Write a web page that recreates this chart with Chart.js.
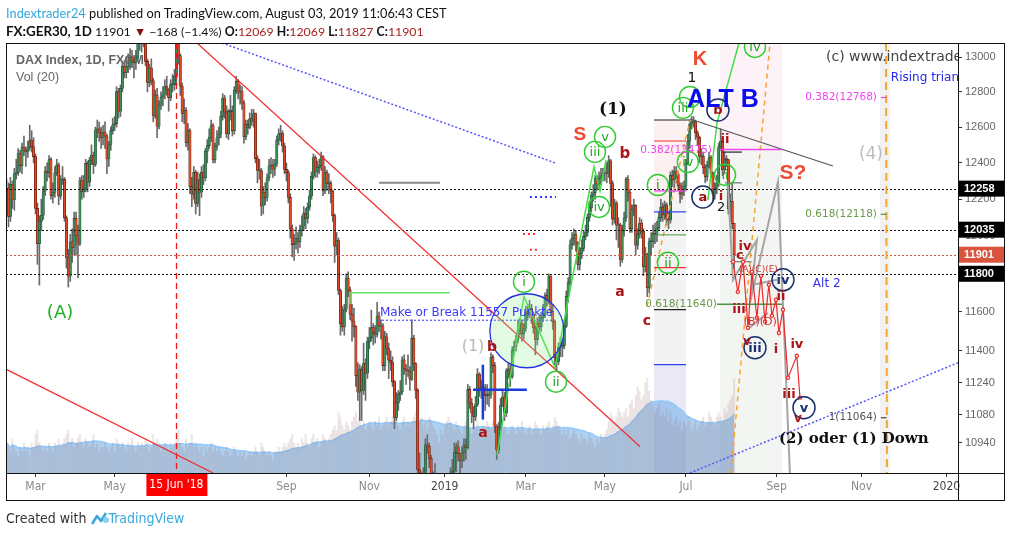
<!DOCTYPE html>
<html>
<head>
<meta charset="utf-8">
<script src="https://cdn.jsdelivr.net/npm/chart.js@4.4.1/dist/chart.umd.min.js"></script>
<style>
html, body { margin: 0; padding: 0; background: #fff; width: 1011px; height: 537px; overflow: hidden; }
#chart { position: absolute; left: 0; top: 0; }
.txt { position: absolute; left: 6px; white-space: nowrap; z-index: 2; font-family: Lato, "Liberation Sans", sans-serif; color: #111; }
.red { color: #a8231f; }
.foot { top: 510px; font-family: "Liberation Sans Narrow", "DejaVu Sans Condensed", sans-serif; font-size: 14px; color: #333; }
.foot svg { vertical-align: -3px; }
</style>
</head>
<body>
<canvas id="chart" width="1011" height="537"></canvas>
<div class="txt" style="top:5px;font-size:12.8px"><span style="color:#35a7dc">Indextrader24</span> published on TradingView.com, August 03, 2019 11:06:43 CEST</div>
<div class="txt" style="top:23px;font-size:12.3px"><b style="font-size:13.4px">FX:GER30, 1D</b> 11901 <span style="color:#8b0a0a">&#9660;</span> &minus;168 (&minus;1.4%) <b>O:</b><span class="red">12069</span> <b>H:</b><span class="red">12069</span> <b>L:</b><span class="red">11827</span> <b>C:</b><span class="red">11901</span></div>
<div class="txt foot">Created with <svg width="18" height="15" viewBox="0 0 18 15"><path d="M1 13 L6 5 L10 10 L15 2" fill="none" stroke="#3aa8de" stroke-width="2.6" stroke-linejoin="round"/><circle cx="15" cy="9" r="3" fill="#8fd0ef"/></svg><span style="color:#3aa8de">TradingView</span></div>

<script>
// x axis: bar index (trading days from 8 Feb 2018)
const tickIdx    = [15, 56, 145, 188, 227, 269, 310, 352, 399, 443, 487];
const tickLabels = ["Mar", "May", "Sep", "Nov", "2019", "Mar", "May", "Jul", "Sep", "Nov", "2020"];
const priceTicks = [10940, 11080, 11240, 11400, 11600, 11800, 12000, 12200, 12400, 12600, 12800, 13000];
const levels = [12258, 12035, 11800];
const lastClose = 11901;
const markIdx = 88;               // 15 Jun 2018
const markLabel = "15 Jun '18";

// daily candles Feb 2018 - Aug 2019
const opens = [
  12170,12260,12107,12282,12196,12339,12346,12452,12385,12488,12470,12461,12483,12527,12490,
  12435,12150,11960,12080,12113,12245,12355,12346,12418,12221,12237,12345,12389,12217,12307,12309,12100,11886,11787,11970,11940,
  12096,12002,11957,12305,12241,12261,12397,12293,12415,12442,12391,12585,12590,12567,12540,12572,12550,12422,12500,12580,
  12612,12620,12802,12690,12820,12948,12912,12943,12945,13001,12978,12970,12996,13114,13078,13077,13169,12976,12855,12938,12863,12666,12783,
  12605,12724,12770,12788,12830,12811,12767,12842,12842,12890,13107,13010,12834,12677,12695,12512,12580,12270,12228,12348,12177,
  12306,12238,12349,12318,12465,12496,12543,12609,12417,12492,12540,12561,12661,12765,12686,12561,12689,12689,12579,12809,12860,12798,
  12805,12737,12546,12615,12598,12648,12633,12676,12424,12358,12358,12163,12237,12210,12318,12384,12385,12365,12394,12527,12561,12563,12494,
  12364,12346,12210,12040,11955,11960,11987,11970,12032,12055,12124,12096,12157,12219,12326,12430,12350,12374,12385,12435,
  12246,12346,12287,12287,12244,12111,11947,11977,11712,11539,11523,11614,11777,11715,11589,11553,11524,11274,11191,11307,11200,11335,11287,
  11447,11468,11519,11495,11484,11579,11527,11529,11325,11472,11412,11353,11341,11244,11066,11138,11180,11192,11354,11309,11299,11298,
  11257,11465,11335,11200,10811,10788,10622,10780,10931,10924,10865,10772,10740,10766,10611,10634,10382,
  10559,10580,10416,10767,10747,10804,10893,10921,10887,10855,10891,10931,10918,11205,11136,11090,11071,11130,11281,11210,11218,11181,
  11173,11180,11176,11368,11325,11022,10906,11014,11126,11167,11089,11299,11309,11269,11401,11423,11458,11505,11540,11487,
  11516,11601,11592,11620,11588,11517,11457,11543,11524,11572,11587,11685,11657,11788,11603,11550,11364,11346,11419,11419,11428,
  11526,11681,11754,11954,11988,12009,11963,11850,11905,11935,11999,12020,12101,12153,12222,12235,12313,12283,12315,12328,
  12344,12340,12345,12412,12286,12092,12179,12059,12060,11876,12029,12099,12310,12238,12041,12143,12168,11952,12011,12071,12027,11837,11902,
  11726,11971,11971,12015,12009,12045,12100,12157,12115,12169,12096,12086,12332,12309,12355,12340,12274,12228,12246,12271,
  12399,12521,12616,12629,12629,12568,12543,12436,12437,12373,12323,12387,12430,12341,12227,12260,12290,12490,12522,12362,12419,12418,12147,
  12189,12069
];
const highs = [
  12310,12290,12320,12300,12370,12420,12480,12470,12510,12550,12490,12520,12610,12580,12540,
  12450,12180,12110,12200,12270,12380,12400,12440,12430,12290,12380,12420,12400,12330,12380,12320,12110,11930,12010,12040,12130,
  12130,12060,12320,12330,12330,12420,12410,12430,12500,12460,12600,12640,12630,12600,12610,12630,12560,12520,12600,12650,
  12660,12830,12820,12840,12970,12980,12990,13020,13050,13040,13010,13040,13140,13130,13130,13200,13180,12990,12960,12990,12880,12810,12820,
  12750,12800,12830,12870,12890,12820,12870,12900,12930,13170,13120,13020,12850,12760,12710,12620,12590,12320,12380,12360,12350,
  12340,12380,12390,12480,12530,12590,12640,12620,12510,12580,12600,12690,12790,12780,12720,12700,12780,12720,12830,12890,12870,12840,
  12830,12750,12640,12640,12680,12700,12700,12680,12440,12420,12370,12270,12290,12340,12420,12430,12420,12420,12550,12590,12610,12580,12510,
  12400,12360,12230,12060,12010,12050,12020,12060,12110,12160,12150,12180,12250,12350,12450,12440,12410,12420,12460,12440,
  12380,12360,12340,12300,12250,12120,12020,11990,11720,11630,11640,11800,11810,11730,11640,11620,11530,11340,11330,11320,11440,11360,11470,
  11520,11610,11540,11530,11650,11600,11560,11540,11500,11490,11440,11400,11370,11250,11190,11200,11250,11370,11380,11330,11380,11320,
  11560,11480,11340,11210,10890,10800,10820,10960,10980,10940,10880,10800,10840,10780,10700,10640,10600,
  10620,10600,10790,10820,10860,10940,10940,10950,10890,10920,10960,10960,11230,11220,11160,11120,11170,11310,11290,11250,11240,11230,
  11230,11200,11390,11380,11340,11030,11040,11160,11200,11190,11310,11340,11330,11420,11450,11480,11560,11570,11560,11540,
  11630,11640,11660,11640,11600,11530,11570,11580,11600,11640,11700,11720,11800,11790,11640,11560,11380,11440,11470,11460,11560,
  11710,11780,11980,12020,12040,12030,11970,11940,11980,12030,12060,12120,12190,12240,12280,12330,12330,12350,12370,12370,
  12380,12400,12440,12420,12300,12200,12190,12100,12070,12060,12130,12320,12330,12250,12170,12200,12170,12040,12100,12090,12040,11940,11910,
  11990,12020,12060,12070,12080,12130,12200,12180,12190,12180,12130,12350,12360,12380,12380,12350,12290,12290,12300,12420,
  12560,12640,12660,12660,12640,12580,12550,12480,12460,12390,12410,12460,12440,12350,12290,12330,12510,12590,12540,12460,12440,12420,12230,
  12290,12069
];
const lows = [
  12120,12050,12080,12150,12140,12310,12330,12350,12340,12440,12380,12430,12470,12460,12400,
  12120,11850,11740,12030,12090,12220,12300,12320,12200,12180,12210,12330,12170,12200,12280,12080,11830,11730,11760,11860,11900,
  11900,11780,11950,12200,12210,12240,12240,12270,12390,12340,12380,12540,12520,12480,12500,12480,12340,12380,12470,12560,
  12580,12600,12650,12660,12800,12880,12880,12910,12930,12940,12880,12930,12980,13040,13030,13060,12950,12800,12830,12840,12630,12650,12540,
  12590,12700,12720,12760,12780,12690,12750,12800,12810,12840,12960,12780,12630,12620,12490,12470,12230,12160,12200,12120,12160,
  12110,12210,12280,12300,12400,12480,12520,12400,12400,12470,12500,12540,12640,12650,12540,12530,12640,12550,12560,12790,12760,12730,
  12700,12510,12530,12560,12590,12610,12600,12400,12290,12310,12110,12120,12170,12190,12300,12340,12320,12330,12380,12500,12520,12460,12340,
  12300,12180,11990,11890,11870,11930,11910,11940,12000,12030,12040,12070,12140,12200,12310,12320,12320,12340,12360,12220,
  12230,12250,12230,12180,12080,11860,11900,11690,11480,11500,11480,11600,11680,11560,11450,11470,11220,11150,11050,11050,11180,11150,11260,
  11410,11450,11430,11440,11470,11500,11460,11300,11300,11380,11260,11300,11220,11010,11050,11100,11150,11180,11280,11230,11270,11200,
  11250,11300,11160,10780,10740,10580,10600,10760,10890,10820,10740,10680,10700,10560,10580,10280,10360,
  10380,10380,10400,10710,10720,10780,10800,10850,10780,10820,10850,10860,10910,11110,11040,11010,11050,11120,11170,11160,11130,11100,
  11130,11120,11160,11290,10990,10860,10890,11000,11120,11050,11070,11260,11220,11260,11380,11400,11440,11480,11450,11460,
  11500,11560,11570,11540,11490,11380,11430,11490,11500,11550,11570,11630,11640,11580,11510,11330,11300,11330,11370,11370,11410,
  11520,11650,11740,11930,11950,11920,11820,11820,11880,11920,11980,12000,12080,12130,12190,12200,12250,12260,12280,12300,
  12300,12290,12320,12160,12060,12070,11980,11940,11840,11860,12000,12080,12190,12020,12020,12110,11900,11930,11990,11990,11790,11810,11680,
  11700,11900,11940,11960,11970,12030,12080,12080,12090,12060,12040,12070,12270,12240,12290,12250,12180,12200,12220,12250,
  12390,12480,12590,12600,12530,12500,12400,12390,12340,12290,12300,12370,12320,12190,12200,12230,12270,12470,12330,12340,12380,12120,12080,
  12040,11827
];
const closes = [
  12260,12107,12282,12196,12339,12346,12452,12385,12488,12470,12461,12483,12527,12490,12435,
  12150,11960,12080,12113,12245,12355,12346,12418,12221,12237,12345,12389,12217,12307,12309,12100,11886,11787,11970,11940,12096,
  12002,11957,12305,12241,12261,12397,12293,12415,12442,12391,12585,12590,12567,12540,12572,12550,12422,12500,12580,12612,
  12620,12802,12690,12820,12948,12912,12943,12945,13001,12978,12970,12996,13114,13078,13077,13169,12976,12855,12938,12863,12666,12783,12605,
  12724,12770,12788,12830,12811,12767,12842,12842,12890,13107,13010,12834,12677,12695,12512,12580,12270,12228,12348,12177,12306,
  12238,12349,12318,12465,12496,12543,12609,12417,12492,12540,12561,12661,12765,12686,12561,12689,12689,12579,12809,12860,12798,12805,
  12737,12546,12615,12598,12648,12633,12676,12424,12358,12358,12163,12237,12210,12318,12384,12385,12365,12394,12527,12561,12563,12494,12364,
  12346,12210,12040,11955,11960,11987,11970,12032,12055,12124,12096,12157,12219,12326,12430,12350,12374,12385,12435,12246,
  12346,12287,12287,12244,12111,11947,11977,11712,11539,11523,11614,11777,11715,11589,11553,11524,11274,11191,11307,11200,11335,11287,11447,
  11468,11519,11495,11484,11579,11527,11529,11325,11472,11412,11353,11341,11244,11066,11138,11180,11192,11354,11309,11299,11298,11257,
  11465,11335,11200,10811,10788,10622,10780,10931,10924,10865,10772,10740,10766,10611,10634,10382,10559,
  10580,10416,10767,10747,10804,10893,10921,10887,10855,10891,10931,10918,11205,11136,11090,11071,11130,11281,11210,11218,11181,11173,
  11180,11176,11368,11325,11022,10906,11014,11126,11167,11089,11299,11309,11269,11401,11423,11458,11505,11540,11487,11516,
  11601,11592,11620,11588,11517,11457,11543,11524,11572,11587,11685,11657,11788,11603,11550,11364,11346,11419,11419,11428,11526,
  11681,11754,11954,11988,12009,11963,11850,11905,11935,11999,12020,12101,12153,12222,12235,12313,12283,12315,12328,12344,
  12340,12345,12412,12286,12092,12179,12059,12060,11876,12029,12099,12310,12238,12041,12143,12168,11952,12011,12071,12027,11837,11902,11726,
  11971,11971,12015,12009,12045,12100,12157,12115,12169,12096,12086,12332,12309,12355,12340,12274,12228,12246,12271,12399,
  12521,12616,12629,12629,12568,12543,12436,12437,12373,12323,12387,12430,12341,12227,12260,12290,12490,12522,12362,12419,12418,12147,12189,
  12069,11901
];
const volumes = [
  7,6,5,8,6,5,4,6,5,7, 5,6,4,7,6,9,10,7,6,5, 6,5,7,6,5,7,6,8,6,7, 8,9,10,7,8,6,7,8,9,7,
  6,8,7,6,7,9,6,7,5,6, 6,7,6,5,6,7,5,8,7,6, 7,6,5,7,6,8,6,5,7,6, 7,6,8,7,5,6,9,7,8,6,
  5,6,7,6,5,7,6,7,8,10, 7,6,5,8,6,7,9,6,7,6, 5,6,4,6,5,6,7,5,6,5, 6,5,4,5,6,5,4,5,6,5,
  4,5,4,5,3,4,5,4,5,6, 5,4,7,6,5,4,5,4,3,5, 5,6,5,6,7,6,7,8,9,7, 6,7,6,8,7,9,7,6,8,9,
  7,8,6,7,9,8,7,8,9,10, 11,10,14,13,11,10,12,11,10,12, 13,14,12,13,11,12,10,11,12,11, 10,12,11,13,10,11,12,13,11,12,
  13,14,12,11,10,12,13,11,12,11, 12,13,14,15,12,13,11,12,10,13, 12,11,10,9,7,10,9,11,12,13, 12,11,10,12,11,10,9,11,12,10,
  10,9,11,10,12,9,10,11,10,12, 11,10,12,11,10,12,9,10,11,10, 9,10,11,10,9,11,10,12,10,9, 10,11,9,10,12,11,10,9,11,10,
  11,12,10,11,13,12,11,10,9,10, 9,10,8,9,10,9,8,7,9,8, 8,7,9,8,7,6,8,7,9,8, 9,10,12,14,13,12,13,15,14,13,
  14,15,13,16,17,15,18,20,19,17, 18,21,22,19,17,16,14,15,16,13, 14,13,15,12,14,11,12,13,11,12, 10,12,11,13,12,10,11,12,10,11,
  12,13,11,12,14,13,12,11,13,14, 13,12,15,14,16,17,18,22
];

// ---------- drawings on the chart (bar index, price) ----------
const bands = [
  { from: 335.5, to: 352.1, top: 12640, bottom: 12196, color: "#fcf0f0" },
  { from: 335.5, to: 352.1, top: 12196, bottom: 11330, color: "#f3f3f3" },
  { from: 335.5, to: 352.1, top: 11330, bottom: 10000, color: "#ebe8f6" },
  { from: 369.7, to: 401.8, top: 14000, bottom: 12472, color: "#fdf2f8" },
  { from: 369.7, to: 401.8, top: 12472, bottom: 10000, color: "#f3f5f3" },
  { from: 452.6, to: 457.8, top: 14000, bottom: 10000, color: "#f2f2f2" }
];

const drawLines = [
  { pts: [[98.7, 13083], [328.2, 10923]], color: "#f22a2a", w: 1.2 },
  { pts: [[-1, 11310], [107, 10794]], color: "#f22a2a", w: 1.2 },
  { pts: [[111.6, 13083], [284.2, 12400]], color: "#5555ff", w: 1.5, dash: [2, 2] },
  { pts: [[354.1, 10794], [493, 11340]], color: "#5555ff", w: 1.5, dash: [2, 2] },
  { pts: [[193, 12290], [224.6, 12290]], color: "#8a8a8a", w: 2 },
  { pts: [[177.9, 11640], [177.9, 11700], [229.7, 11700]], color: "#66e066", w: 1.5 },
  { pts: [[192.4, 11557], [283.1, 11557]], color: "#5555ff", w: 1.3, dash: [2, 2] },
  { pts: [[254.1, 10879], [268.1, 11680], [284.2, 11315], [304.4, 12378], [307.5, 12245], [310.6, 12416]], color: "#44dd44", w: 1.5 },
  { pts: [[363.4, 12196], [368.1, 12623], [379.5, 13083]], color: "#44dd44", w: 1.5 },
  { pts: [[246.8, 11330], [246.8, 11055]], color: "#1a3be0", w: 2.5 },
  { pts: [[241.7, 11204], [269.6, 11204]], color: "#1a3be0", w: 2.5 },
  { pts: [[271.2, 12212], [284.7, 12212]], color: "#3333ff", w: 2, dash: [2, 3] },
  { pts: [[267.6, 12012], [275.3, 12012]], color: "#ff3333", w: 2, dash: [2, 3] },
  { pts: [[271.2, 11927], [275.3, 11927]], color: "#ff3333", w: 2, dash: [2, 3] },
  { pts: [[331.8, 11628], [354.1, 12640]], color: "#f7a531", w: 1.5, dash: [5, 4] },
  { pts: [[375.3, 10794], [395.6, 13083]], color: "#f7a531", w: 1.5, dash: [5, 4] },
  { pts: [[455.7, 13083], [456.2, 10794]], color: "#f7a531", w: 2, dash: [8, 5] },
  { pts: [[354.1, 12646], [428.2, 12383]], color: "#555555", w: 1.2 },
  { pts: [[373.8, 12278], [376.4, 11768], [388.8, 11980], [385.2, 11648], [399.7, 12295], [405.9, 10790]], color: "#a5a5a5", w: 2 },
  { pts: [[383.6, 11508], [394.5, 11596]], color: "#a5a5a5", w: 2 },
  { pts: [[386.7, 11742], [399.2, 11768]], color: "#a5a5a5", w: 2 },
  { pts: [[372.3, 12290], [381, 12290]], color: "#888888", w: 1.5 },
  { pts: [[375, 11864], [386, 11864]], color: "#777777", w: 1.2 },
  { pts: [[335.5, 12640], [354, 12640]], color: "#222222", w: 1.2 },
  { pts: [[335.5, 12522], [352.1, 12522]], color: "#ee3333", w: 1.2 },
  { pts: [[335.5, 12246], [352.1, 12246]], color: "#ee44ee", w: 1.2 },
  { pts: [[335.5, 12131], [352.1, 12131]], color: "#3344ee", w: 1.2 },
  { pts: [[335.5, 12007], [352.1, 12007]], color: "#449944", w: 1 },
  { pts: [[335.5, 11832], [352.1, 11832]], color: "#ee3333", w: 1.2 },
  { pts: [[335.5, 11612], [352.1, 11612]], color: "#222222", w: 1.2 },
  { pts: [[335.5, 11330], [352.1, 11330]], color: "#3344ee", w: 1.2 },
  { pts: [[369.7, 12475], [401.8, 12475]], color: "#ee44ee", w: 1.5 },
  { pts: [[368.1, 11640], [401.8, 11640]], color: "#449944", w: 1.5 },
  { pts: [[371, 12460], [381, 12460]], color: "#222222", w: 1.2 },
  { pts: [[453, 12768], [456, 12768]], color: "#ee44ee", w: 1.2 },
  { pts: [[453, 12118], [456, 12118]], color: "#449944", w: 1.2 },
  { pts: [[453, 11064], [456, 11064]], color: "#444444", w: 1.2 }
];

const zigzag = [[376.4, 11864], [378.9, 11706], [381.6, 11864], [384.2, 11518], [386.2, 11810], [388.8, 11570],
  [390.9, 11789], [393.0, 11550], [395.0, 11742], [396.6, 11581], [398.7, 11664], [400.2, 11493],
  [402.3, 11612], [404.9, 11264], [409.5, 11375], [411.1, 11164]];

const greenCircles = [["i", 268.1, 11758], ["ii", 284.7, 11244], ["iii", 304.9, 12461], ["v", 310.1, 12545], ["iv", 307, 12158],
  ["i", 337.5, 12278], ["ii", 342.7, 11858], ["iii", 350.5, 12709], ["", 354.1, 12771], ["iv", 353, 12405],
  ["ii", 372.3, 12334], ["iv", 387.8, 13060]];
const navyCircles = [["a", 360.8, 12212, "#a01010"], ["b", 368.6, 12697, "#a01010"], ["iv", 402.3, 11768, "#1a2f6e"],
  ["iii", 387.8, 11416, "#1a2f6e"], ["v", 413.2, 11114, "#1a2f6e"]];

const F = "'DejaVu Sans', sans-serif";
const L = "'Liberation Sans', Arial, sans-serif";
const waveRed = "#ab1414";
const texts = [
  ["(A)", 27.7, 11591, "#22b022", "18px " + F, "center"],
  ["(1)", 241.7, 11421, "#b8b8b8", "16px " + F, "center"],
  ["b", 251.5, 11416, waveRed, "bold 14px " + F, "center"],
  ["a", 246.8, 10986, waveRed, "bold 14px " + F, "center"],
  ["c", 253.6, 10772, waveRed, "bold 14px " + F, "center"],
  ["S", 297.1, 12556, "#f04a32", "bold 19px " + L, "center"],
  ["(1)", 314.2, 12697, "#111111", "bold 17px 'DejaVu Serif', serif", "center"],
  ["b", 320.4, 12450, waveRed, "bold 15px " + F, "center"],
  ["a", 317.8, 11700, waveRed, "bold 14px " + F, "center"],
  ["c", 331.8, 11550, waveRed, "bold 14px " + F, "center"],
  ["K", 359.3, 12984, "#f04a32", "bold 20px " + L, "center"],
  ["1", 355.1, 12880, "#111111", "14px " + F, "center"],
  ["2", 370.2, 12153, "#111111", "13px " + F, "center"],
  ["ALT B", 371.2, 12754, "#0b0bf0", "bold 25px " + L, "center"],
  ["S?", 407.5, 12344, "#f04a32", "bold 21px " + L, "center"],
  ["(4)", 447.9, 12444, "#bdbdbd", "17px " + F, "center"],
  ["ii", 372.3, 12528, waveRed, "bold 13px " + F, "center"],
  ["i", 370.2, 12212, waveRed, "bold 13px " + F, "center"],
  ["iv", 382.6, 11943, waveRed, "bold 13px " + F, "center"],
  ["c", 380, 11895, waveRed, "bold 13px " + F, "center"],
  ["iii", 379.5, 11612, waveRed, "bold 13px " + F, "center"],
  ["v", 383.6, 11446, waveRed, "bold 12px " + F, "center"],
  ["ii", 401.3, 11680, waveRed, "bold 13px " + F, "center"],
  ["i", 398.7, 11406, waveRed, "bold 13px " + F, "center"],
  ["iv", 409.5, 11431, waveRed, "bold 13px " + F, "center"],
  ["iii", 405.4, 11179, waveRed, "bold 13px " + F, "center"],
  ["v", 410, 11060, waveRed, "bold 12px " + F, "center"],
  ["(A)(C)(E)", 389.5, 11821, "#cc3333", "9px " + F, "center"],
  ["(B)(D)", 390.5, 11545, "#cc3333", "11px " + F, "center"],
  ["0.382(12475)", 365.5, 12472, "#ee44ee", "10.5px " + F, "right"],
  ["0.618(11640)", 368.1, 11640, "#6a9a4a", "10.5px " + F, "right"],
  ["0.382(12768)", 451, 12768, "#ee44ee", "10.5px " + F, "right"],
  ["0.618(12118)", 451, 12118, "#6a9a4a", "10.5px " + F, "right"],
  ["1(11064)", 451, 11064, "#555555", "10.5px " + F, "right"],
  ["Alt 2", 417.8, 11747, "#3333ee", "12px " + F, "left"],
  ["(2) oder (1) Down", 400.2, 10957, "#111111", "bold 15px 'DejaVu Serif', serif", "left"],
  ["Make or Break 11557 Punkte", 193.5, 11597, "#3a3aff", "12px " + F, "left"],
  ["(c) www.indextrader24.com", 424.6, 13000, "#444444", "14px " + F, "left"],
  ["Rising triangle", 458.2, 12880, "#2525ee", "12px " + F, "left"]
];

// ---------- datasets ----------
const wickData = [], bodyData = [], volData = [], maData = [];
for (let i = 0; i < closes.length; i++) {
  const lo = Math.min(lows[i], opens[i], closes[i]);
  const hi = Math.max(highs[i], opens[i], closes[i]);
  wickData.push({ x: i, y: [lo, hi] });
  bodyData.push({ x: i, y: [opens[i], closes[i]] });
  volData.push({ x: i, y: volumes[i] });
  // Vol (20): 20-day average of volume
  let s = 0, k = 0;
  for (let j = Math.max(0, i - 19); j <= i; j++) { s += volumes[j]; k++; }
  maData.push({ x: i, y: s / k });
}

const X = (c, v) => c.scales.x.getPixelForValue(v);
const Y = (c, v) => c.scales.y.getPixelForValue(v);

function clipArea(ctx, a) {
  ctx.beginPath();
  ctx.rect(a.left, a.top, a.right - a.left, a.bottom - a.top);
  ctx.clip();
}

const drawings = {
  id: "drawings",
  beforeDatasetsDraw(chart) {
    const { ctx, chartArea: a } = chart;
    ctx.save();
    clipArea(ctx, a);
    bands.forEach(b => {
      const x1 = X(chart, b.from), x2 = X(chart, b.to);
      const y1 = Y(chart, b.top), y2 = Y(chart, b.bottom);
      ctx.fillStyle = b.color;
      ctx.fillRect(x1, y1, x2 - x1, y2 - y1);
    });
    ctx.fillStyle = "#666";
    ctx.textBaseline = "middle";
    ctx.font = "bold 12.5px " + L;
    ctx.fillText("DAX Index, 1D, FXCM", 16, 61);
    ctx.font = "12.5px " + L;
    ctx.fillText("Vol (20)", 16, 78);
    ctx.restore();
  },
  afterDatasetsDraw(chart) {
    const { ctx, chartArea: a } = chart;
    ctx.save();
    clipArea(ctx, a);

    // horizontal levels
    ctx.lineWidth = 1;
    ctx.setLineDash([2, 2]);
    levels.forEach(p => {
      const y = Math.round(Y(chart, p)) + 0.5;
      ctx.strokeStyle = "#111";
      ctx.beginPath(); ctx.moveTo(a.left, y); ctx.lineTo(a.right, y); ctx.stroke();
    });
    const yl = Math.round(Y(chart, lastClose)) + 0.5;
    ctx.strokeStyle = "#d0584a";
    ctx.beginPath(); ctx.moveTo(a.left, yl); ctx.lineTo(a.right, yl); ctx.stroke();

    // 15 Jun marker
    const xm = Math.round(X(chart, markIdx)) + 0.5;
    ctx.setLineDash([6, 4]);
    ctx.strokeStyle = "#f01818";
    ctx.lineWidth = 1.3;
    ctx.beginPath(); ctx.moveTo(xm, a.top); ctx.lineTo(xm, a.bottom); ctx.stroke();

    // line drawings
    drawLines.forEach(l => {
      ctx.setLineDash(l.dash || []);
      ctx.strokeStyle = l.color;
      ctx.lineWidth = l.w;
      ctx.beginPath();
      l.pts.forEach((p, k) => {
        const x = X(chart, p[0]), y = Y(chart, p[1]);
        if (k === 0) ctx.moveTo(x, y); else ctx.lineTo(x, y);
      });
      ctx.stroke();
    });
    ctx.setLineDash([]);

    // big circle "Make or Break"
    ctx.beginPath();
    ctx.arc(X(chart, 269.6), Y(chart, 11503), 37, 0, Math.PI * 2);
    ctx.fillStyle = "rgba(140, 240, 140, 0.25)";
    ctx.fill();
    ctx.strokeStyle = "#2233dd";
    ctx.lineWidth = 1.3;
    ctx.stroke();

    // red projection
    ctx.strokeStyle = "#f02a2a";
    ctx.lineWidth = 1.2;
    ctx.beginPath();
    zigzag.forEach((p, k) => {
      const x = X(chart, p[0]), y = Y(chart, p[1]);
      if (k === 0) ctx.moveTo(x, y); else ctx.lineTo(x, y);
    });
    ctx.stroke();
    zigzag.forEach(p => {
      ctx.beginPath();
      ctx.arc(X(chart, p[0]), Y(chart, p[1]), 1.6, 0, Math.PI * 2);
      ctx.fillStyle = "#fff"; ctx.fill(); ctx.stroke();
    });

    // wave circles
    ctx.textAlign = "center";
    ctx.textBaseline = "middle";
    greenCircles.forEach(c => {
      const x = X(chart, c[1]), y = Y(chart, c[2]);
      ctx.beginPath(); ctx.arc(x, y, 10.5, 0, Math.PI * 2);
      ctx.strokeStyle = "#2fcc2f"; ctx.lineWidth = 1.4; ctx.stroke();
      ctx.fillStyle = "#1ea51e"; ctx.font = "13px " + F;
      ctx.fillText(c[0], x, y + 1);
    });
    navyCircles.forEach(c => {
      const x = X(chart, c[1]), y = Y(chart, c[2]);
      ctx.beginPath(); ctx.arc(x, y, 11, 0, Math.PI * 2);
      ctx.strokeStyle = "#1a2f6e"; ctx.lineWidth = 1.5; ctx.stroke();
      ctx.fillStyle = c[3]; ctx.font = "bold 13px " + F;
      ctx.fillText(c[0], x, y + 1);
    });

    // text labels
    texts.forEach(t => {
      ctx.fillStyle = t[3];
      ctx.font = t[4];
      ctx.textAlign = t[5];
      ctx.fillText(t[0], X(chart, t[1]), Y(chart, t[2]));
    });
    ctx.restore();
  },
  afterDraw(chart) {
    const { ctx, chartArea: a } = chart;
    ctx.save();
    // price boxes on the right axis
    ctx.font = "bold 11px " + L;
    ctx.textBaseline = "middle";
    ctx.textAlign = "left";
    const boxes = levels.map(p => [p, "#000"]).concat([[lastClose, "#d9533f"]]);
    boxes.forEach(b => {
      const y = Y(chart, b[0]);
      ctx.fillStyle = b[1];
      ctx.fillRect(a.right + 1, y - 8, 45, 16);
      ctx.fillStyle = "#fff";
      ctx.fillText(String(b[0]), a.right + 6, y + 0.5);
    });
    // date marker box
    const xm = X(chart, markIdx);
    ctx.fillStyle = "#ff0000";
    ctx.fillRect(xm - 30, a.bottom + 1, 61, 22);
    ctx.fillStyle = "#fff";
    ctx.font = "12px 'Liberation Sans Narrow', 'DejaVu Sans Condensed', sans-serif";
    ctx.textAlign = "center";
    ctx.fillText(markLabel, xm, a.bottom + 12);
    // frame
    ctx.strokeStyle = "#111";
    ctx.lineWidth = 1;
    ctx.strokeRect(a.left + 0.5, a.top + 0.5, 1004 - a.left, 500 - a.top);
    ctx.beginPath();
    ctx.moveTo(a.right + 0.5, a.top); ctx.lineTo(a.right + 0.5, 500.5);
    ctx.moveTo(a.left, a.bottom + 0.5); ctx.lineTo(1004.5, a.bottom + 0.5);
    ctx.stroke();
    ctx.restore();
  }
};

Chart.defaults.font.family = L;

new Chart(document.getElementById("chart"), {
  type: "bar",
  data: {
    datasets: [
      {
        label: "body", data: bodyData, yAxisID: "y", grouped: false, order: 0,
        barThickness: 2.4, minBarLength: 1, borderWidth: 0.6, borderSkipped: false,
        backgroundColor: c => closes[c.dataIndex] >= opens[c.dataIndex] ? "#3e8e5e" : "#e24a2a",
        borderColor: c => closes[c.dataIndex] >= opens[c.dataIndex] ? "#1d4a31" : "#5a180b"
      },
      {
        label: "wick", data: wickData, yAxisID: "y", grouped: false, order: 1,
        barThickness: 1, backgroundColor: "#6a6a6a"
      },
      {
        label: "volume", data: volData, yAxisID: "yv", grouped: false, order: 2,
        barThickness: 1.4, backgroundColor: "rgba(150, 100, 100, 0.17)"
      },
      {
        type: "line", label: "Vol (20)", data: maData, yAxisID: "yv", order: 3,
        fill: "origin", backgroundColor: "rgba(110, 172, 230, 0.55)",
        borderColor: "rgba(140, 200, 255, 0.95)", borderWidth: 1.5, pointRadius: 0, tension: 0.2
      }
    ]
  },
  options: {
    responsive: false,
    animation: false,
    layout: { padding: { left: 6, top: 43, right: 7, bottom: 37 } },
    plugins: { legend: { display: false }, tooltip: { enabled: false } },
    scales: {
      x: {
        type: "linear", min: -0.3, max: 493, offset: false,
        afterBuildTicks: s => { s.ticks = tickIdx.map(v => ({ value: v })); },
        afterFit: s => { s.height = 27; },
        grid: { offset: false, drawOnChartArea: false, tickLength: 4, color: "#333" },
        border: { display: false },
        ticks: {
          autoSkip: false, maxRotation: 0, padding: 3,
          callback: (v, i) => tickLabels[i],
          color: c => (c.tick && String(c.tick.label).length === 4) ? "#444" : "#8a8a8a",
          font: { family: "'Liberation Sans Narrow', 'DejaVu Sans Condensed', sans-serif", size: 12 }
        }
      },
      y: {
        type: "logarithmic", position: "right", min: 10794, max: 13083,
        afterBuildTicks: s => { s.ticks = priceTicks.map(v => ({ value: v })); },
        afterFit: s => { s.width = 46; },
        grid: { drawOnChartArea: false, tickLength: 4, color: "#333" },
        border: { display: false },
        ticks: { autoSkip: false, padding: 3, color: "#666", font: { size: 11 }, callback: v => String(v) }
      },
      yv: { display: false, min: 0, max: 100 }
    }
  },
  plugins: [drawings]
});
</script>
</body>
</html>
